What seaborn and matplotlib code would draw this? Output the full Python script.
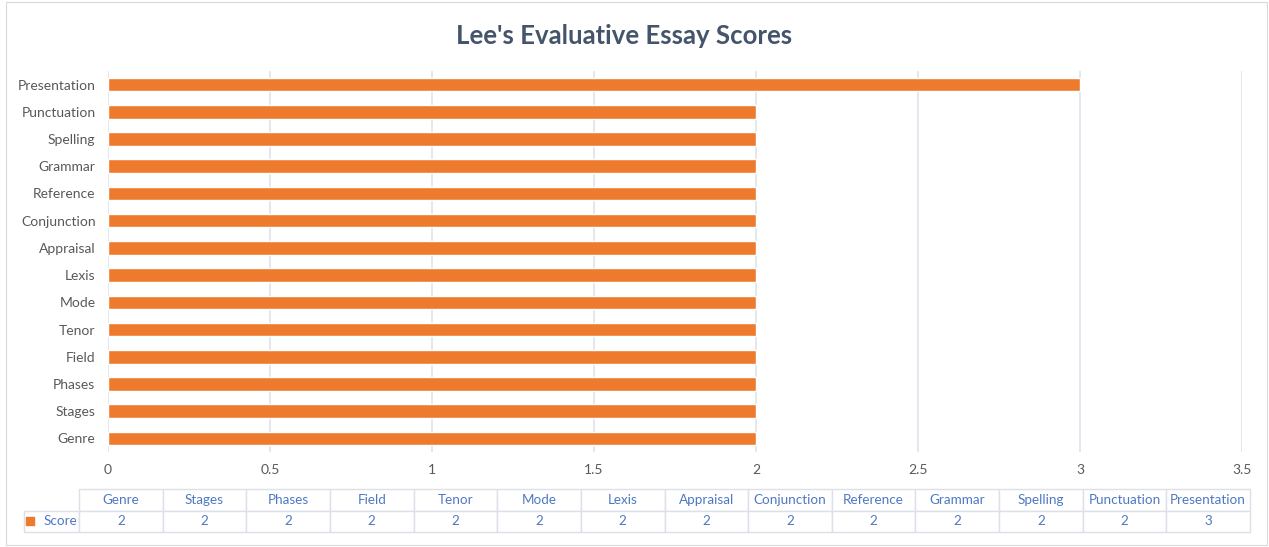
import matplotlib.pyplot as plt
import seaborn as sns
import pandas as pd
from matplotlib.patches import Rectangle

# chart data
criteria = ["Genre", "Stages", "Phases", "Field", "Tenor", "Mode", "Lexis",
            "Appraisal", "Conjunction", "Reference", "Grammar", "Spelling",
            "Punctuation", "Presentation"]
scores = [2, 2, 2, 2, 2, 2, 2, 2, 2, 2, 2, 2, 2, 3]
series_name = "Score"
x_ticks = [0, 0.5, 1, 1.5, 2, 2.5, 3, 3.5]

df = pd.DataFrame({"Criterion": criteria, "Score": scores})

sns.set_theme(style="white")
plt.rcParams["font.family"] = ["Lato", "DejaVu Sans"]

orange = "#EE7A2E"
grid_col = "#DCE0E8"
label_col = "#595959"
table_col = "#4F78C4"

W, H = 1269, 547
fig = plt.figure(figsize=(W / 100, H / 100), dpi=100)
fig.patch.set_facecolor("white")
# light chart frame
fig.add_artist(Rectangle((6 / W, 2 / H), 1 - 8 / W, 1 - 4 / H, transform=fig.transFigure,
                         fill=False, edgecolor="#D9D9D9", linewidth=0.8))

ax = fig.add_axes([108 / W, 95 / H, 1134 / W, 381 / H])
sns.barplot(data=df, x="Score", y="Criterion", order=criteria[::-1], orient="h",
            color=orange, saturation=1, width=0.5, ax=ax)

ax.set_xlim(0, 3.5)
ax.set_xticks(x_ticks)
ax.set_xticklabels([f"{t:g}" for t in x_ticks])
ax.xaxis.grid(True, color=grid_col, linewidth=1.1)
ax.set_axisbelow(True)
for s in ax.spines.values():
    s.set_visible(False)
ax.tick_params(axis="both", length=0, colors=label_col, labelsize=10)
ax.tick_params(axis="x", pad=9)
ax.tick_params(axis="y", pad=9)
ax.set_xlabel("")
ax.set_ylabel("")

fig.text(624 / W, 1 - 36 / H, "Lee's Evaluative Essay Scores", ha="center", va="center",
         fontsize=18.5, fontweight="bold", color="#44546A")

# data table under the chart (axes covers the data columns only)
tax = fig.add_axes([79 / W, 15 / H, 1171 / W, 43 / H])
tax.set_axis_off()
tab = tax.table(cellText=[[str(v) for v in scores]], colLabels=criteria,
                rowLabels=[series_name], cellLoc="center", rowLoc="right",
                bbox=[0, 0, 1, 1])
tab._autoColumns = []
tab.auto_set_font_size(False)
tab.set_fontsize(9.7)
for (r, c), cell in tab.get_celld().items():
    cell.set_edgecolor(grid_col)
    cell.set_linewidth(1.0)
    cell.get_text().set_color(table_col)
    if c == -1:
        cell.set_width(55 / 1171)
        cell.PAD = 0.03
    else:
        cell.set_width(1 / 14)
tax.scatter([-49.5 / 1171], [0.26], marker="s", s=28, color=orange,
            transform=tax.transAxes, clip_on=False)

fig.savefig("out.png", dpi=100)
